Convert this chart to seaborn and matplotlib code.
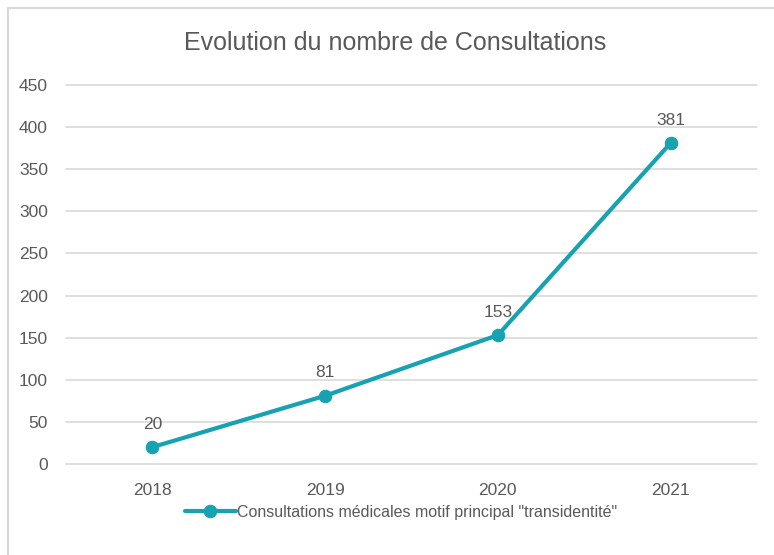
import pandas as pd
import matplotlib.pyplot as plt
import seaborn as sns
from matplotlib.patches import Rectangle

# Data
years = ["2018", "2019", "2020", "2021"]
consultations = [20, 81, 153, 381]
series_name = 'Consultations médicales motif principal "transidentité"'

df = pd.DataFrame({"Année": years, "Consultations": consultations})

sns.set_style("white")
plt.rcParams['font.family'] = ['Liberation Sans', 'DejaVu Sans']

teal = '#17A2B1'
grey_text = '#595959'

fig = plt.figure(figsize=(7.74, 5.55), dpi=100)
ax = fig.add_axes([0.0853, 0.164, 0.8927, 0.683])

sns.lineplot(x='Année', y='Consultations', data=df, ax=ax, color=teal,
             linewidth=3, marker='o', markersize=9, markeredgecolor=teal,
             label=series_name, sort=False)

# Data labels
for i, v in enumerate(consultations):
    ax.annotate(str(v), (i, v), xytext=(0, 11), textcoords='offset points',
                ha='center', va='bottom', fontsize=12.5, color=grey_text)

ax.set_xlim(-0.5, 3.5)
ax.set_ylim(0, 450)
ax.set_yticks(range(0, 451, 50))
ax.grid(axis='y', color='#D9D9D9', linewidth=1.2)
for g in ax.get_ygridlines():
    g.set_clip_on(False)
ax.set_axisbelow(True)
for s in ax.spines.values():
    s.set_visible(False)
ax.tick_params(axis='both', length=0, labelsize=12.5, labelcolor=grey_text)
ax.tick_params(axis='y', pad=13)
ax.tick_params(axis='x', pad=14)
ax.set_xlabel("")
ax.set_ylabel("")

fig.suptitle("Evolution du nombre de Consultations", x=0.51, y=0.945,
             fontsize=18, color=grey_text)

ax.legend(loc='upper center', bbox_to_anchor=(0.485, -0.07), frameon=False,
          fontsize=11.5, labelcolor=grey_text, handlelength=3.2, handletextpad=0.1)

# Chart border
fig.patches.append(Rectangle((8 / 774, -0.01), 1.0, 1 - 8 / 555 + 0.01,
                             transform=fig.transFigure, fill=False,
                             edgecolor='#D9D9D9', linewidth=1.5))

fig.savefig("out.png", dpi=100)
